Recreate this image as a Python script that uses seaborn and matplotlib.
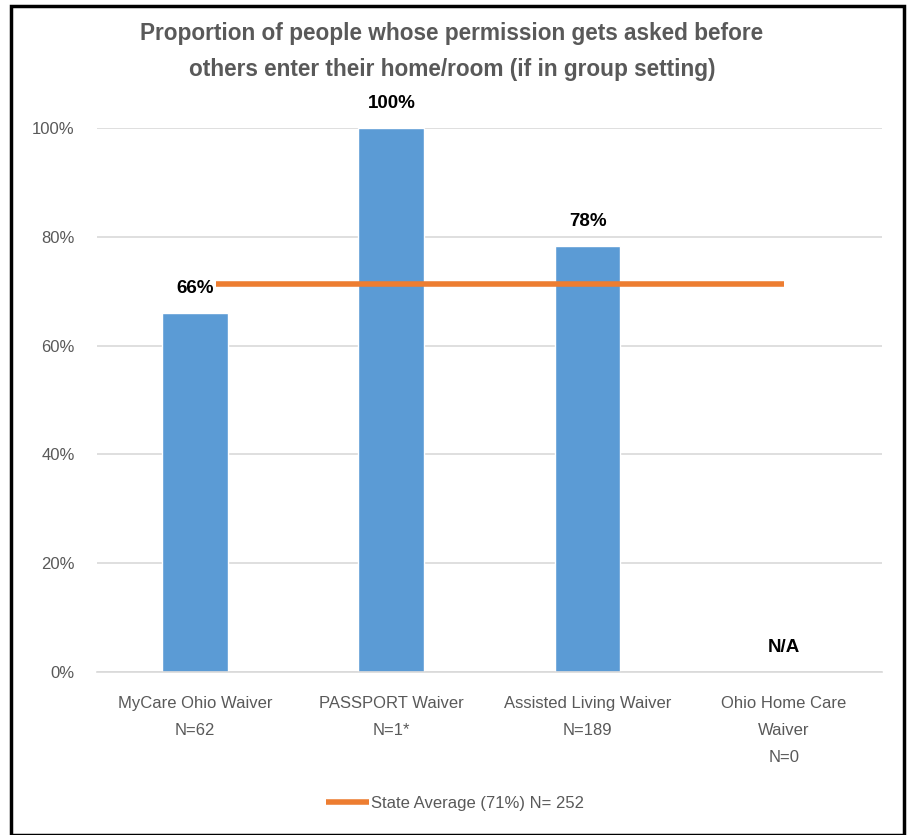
import numpy as np
import pandas as pd
import seaborn as sns
import matplotlib.pyplot as plt
from matplotlib.patches import Rectangle

sns.set_theme(style="white")
plt.rcParams['font.family'] = ['Liberation Sans Narrow', 'Liberation Sans', 'DejaVu Sans']

# datos
programas = ['MyCare Ohio Waiver\nN=62', 'PASSPORT Waiver\nN=1*',
             'Assisted Living Waiver\nN=189', 'Ohio Home Care\nWaiver\nN=0']
valores = [66.0, 100.0, 78.3, np.nan]
etiquetas = ['66%', '100%', '78%', 'N/A']
promedio_estado = 71.3
texto_leyenda = 'State Average (71%) N= 252'
titulo = 'Proportion of people whose permission gets asked before\nothers enter their home/room (if in group setting)'

df = pd.DataFrame({'Programa': programas, 'Valor': valores})

fig = plt.figure(figsize=(9.09, 8.35), dpi=100)
ax = fig.add_axes([0.1067, 0.1952, 0.8636, 0.6515])

sns.barplot(data=df, x='Programa', y='Valor', color='#5B9BD5', saturation=1,
            width=0.335, ax=ax)

# linea del promedio estatal
ax.plot([0, len(programas) - 1], [promedio_estado] * 2, color='#ED7D31', lw=4,
        solid_capstyle='butt', zorder=3, label=texto_leyenda)

# etiquetas de los datos
for i, (v, t) in enumerate(zip(valores, etiquetas)):
    yv = 0 if np.isnan(v) else v
    ax.text(i, yv + 3.0, t, ha='center', va='bottom', fontsize=13.5, fontweight='bold',
            color='black', zorder=5,
            bbox=dict(facecolor='white', edgecolor='none', pad=1.5))

ax.set_xlim(-0.5, len(programas) - 0.5)
ax.set_ylim(0, 100)
ax.set_yticks(np.arange(0, 101, 20))
ax.set_yticklabels([f'{v}%' for v in range(0, 101, 20)])
ax.yaxis.grid(True, color='#D9D9D9', lw=1.2)
ax.set_axisbelow(True)
for s in ['left', 'right', 'top']:
    ax.spines[s].set_visible(False)
ax.spines['bottom'].set_color('#D9D9D9')
ax.spines['bottom'].set_linewidth(1.2)
ax.tick_params(axis='both', colors='#595959', labelsize=12, length=0)
ax.tick_params(axis='x', pad=17)
ax.tick_params(axis='y', pad=16)
ax.set_xlabel('')
ax.set_ylabel('')
for lab in ax.get_xticklabels():
    lab.set_linespacing(2.0)

fig.text(0.497, 0.974, titulo, ha='center', va='top', fontsize=16.3, fontweight='bold',
         color='#595959', linespacing=1.75)

leg = fig.legend(loc='center', bbox_to_anchor=(0.5, 0.038), frameon=False, fontsize=12,
                 handlelength=2.6, handletextpad=0.1)
for t in leg.get_texts():
    t.set_color('#595959')

# marco
fig.patches.append(Rectangle((0.012, 0.0), 0.983, 0.993, transform=fig.transFigure,
                             fill=False, edgecolor='black', lw=2.5))

fig.savefig('out.png', dpi=100)
